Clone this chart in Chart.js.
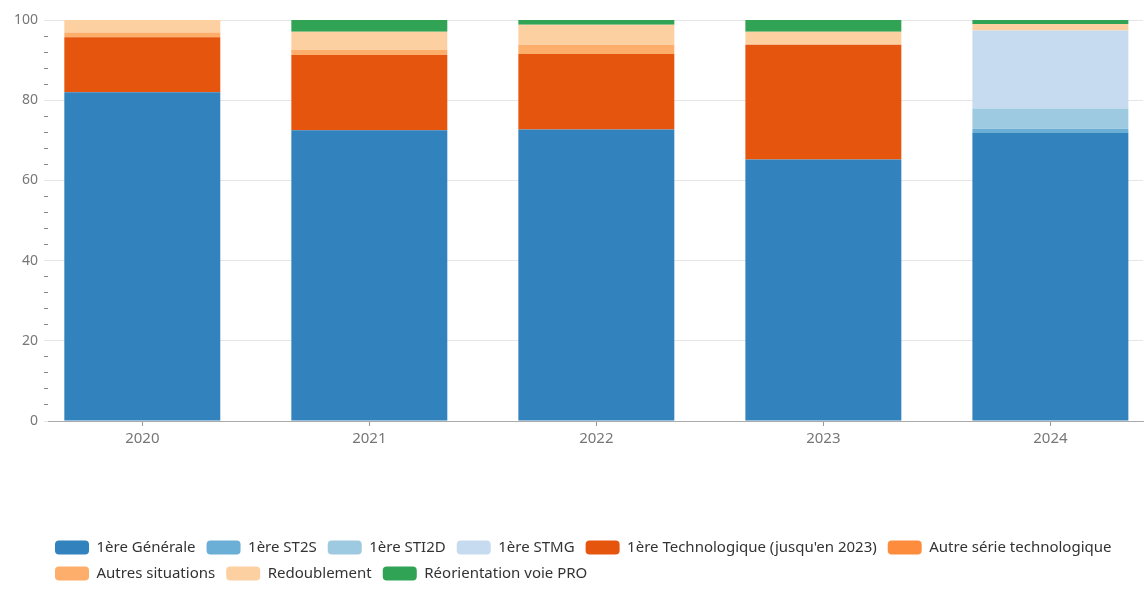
<!DOCTYPE html>
<html>
<head>
<meta charset="utf-8">
<script src="https://cdn.jsdelivr.net/npm/chart.js@4.4.1/dist/chart.umd.min.js"></script>
<style>
  html, body { margin: 0; padding: 0; background: #fff; }
  #wrap { width: 1146px; height: 590px; position: relative; }
</style>
</head>
<body>
<div id="wrap"><canvas id="chart"></canvas></div>
<script>
// years shown on the x axis
const years = ['2020', '2021', '2022', '2023', '2024'];

// share of pupils (%) per orientation
const generale      = [82.0, 72.5, 72.7, 65.2, 71.8];
const st2s          = [0, 0, 0, 0, 1.1];
const sti2d         = [0, 0, 0, 0, 5.0];
const stmg          = [0, 0, 0, 0, 19.5];
const technologique = [13.7, 18.8, 18.8, 28.6, 0];
const autreSerie    = [0, 0, 0, 0, 0];
const autresSit     = [1.2, 1.2, 2.3, 0, 0];
const redoublement  = [3.1, 4.6, 5.0, 3.3, 1.6];
const reorientation = [0, 2.9, 1.2, 2.9, 1.0];

const yTicks = [0, 20, 40, 60, 80, 100];

const series = [
    ['1ère Générale', generale, '#3182bd'],
    ['1ère ST2S', st2s, '#6baed6'],
    ['1ère STI2D', sti2d, '#9ecae1'],
    ['1ère STMG', stmg, '#c6dbef'],
    ['1ère Technologique (jusqu\'en 2023)', technologique, '#e6550d'],
    ['Autre série technologique', autreSerie, '#fd8d3c'],
    ['Autres situations', autresSit, '#fdae6b'],
    ['Redoublement', redoublement, '#fdd0a2'],
    ['Réorientation voie PRO', reorientation, '#31a354']
];

const font = '"Noto Sans", "DejaVu Sans", sans-serif';

// legend sits flush left under the plot, like the original
const legendPlacer = {
    id: 'legendPlacer',
    beforeDraw(chart) {
        chart.legend.left = 44;
        chart.legend.top = 529;
    }
};

new Chart(document.getElementById('chart'), {
    type: 'bar',
    data: {
        datasets: series.map(([label, values, color]) => ({
            label,
            data: values.map((v, i) => ({ x: i, y: v })),
            backgroundColor: color,
            borderWidth: 0
        }))
    },
    options: {
        responsive: true,
        maintainAspectRatio: false,
        animation: false,
        categoryPercentage: 1,
        barPercentage: 0.687,
        layout: { padding: { top: 20, right: 3, left: 0, bottom: 0 } },
        plugins: {
            tooltip: { enabled: false },
            legend: {
                position: 'bottom',
                align: 'start',
                labels: {
                    boxWidth: 34,
                    boxHeight: 14,
                    padding: 11,
                    useBorderRadius: true,
                    borderRadius: 4,
                    color: '#333',
                    font: { family: font, size: 15 }
                }
            }
        },
        scales: {
            x: {
                type: 'linear',
                stacked: true,
                offset: false,
                min: -0.4154,
                max: 4.408,
                afterBuildTicks: s => { s.ticks = years.map((_, i) => ({ value: i })); },
                afterFit: s => { s.height = 107; },
                ticks: {
                    callback: v => years[v] ?? '',
                    color: '#777',
                    padding: 4,
                    font: { family: font, size: 15 }
                },
                grid: { offset: false, drawOnChartArea: false, drawTicks: true, tickLength: 5, tickColor: '#999' },
                border: { display: true, color: '#aaa' }
            },
            y: {
                stacked: true,
                min: 0,
                max: 100,
                afterFit: s => { s.width = 48; },
                ticks: {
                    stepSize: 4,
                    autoSkip: false,
                    callback: v => yTicks.includes(v) ? v : '',
                    color: '#777',
                    padding: 6,
                    font: { family: font, size: 14 }
                },
                grid: {
                    color: c => yTicks.includes(c.tick.value) ? '#e6e6e6' : 'transparent',
                    tickColor: c => yTicks.includes(c.tick.value) ? '#e6e6e6' : '#888',
                    tickLength: 4
                },
                border: { display: false }
            }
        }
    },
    plugins: [legendPlacer]
});
</script>
</body>
</html>
